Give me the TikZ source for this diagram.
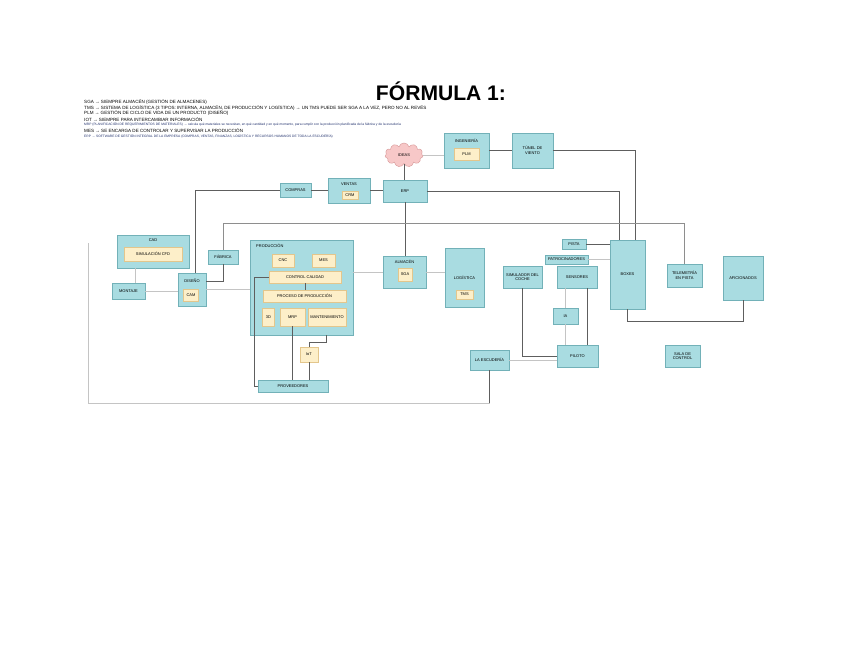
\documentclass[tikz,border=0pt]{standalone}
\usepackage{fontspec}
\setmainfont{Liberation Sans}
\usetikzlibrary{shapes.symbols,positioning}
\definecolor{BoxTeal}{HTML}{A9DCE1}
\definecolor{TealLine}{HTML}{72B1B8}
\definecolor{ModFill}{HTML}{FDEFC9}
\definecolor{ModLine}{HTML}{E3C68C}
\definecolor{CloudFill}{HTML}{F7C8C8}
\definecolor{CloudLine}{HTML}{D99C9C}
\definecolor{WireDark}{HTML}{5E5E5E}
\definecolor{WireLight}{HTML}{C4C4C4}
\definecolor{NoteBlue}{HTML}{1F2F6B}
\newcommand{\sysfont}{\fontsize{3.4}{4}\selectfont}
\newcommand{\notefont}{\fontsize{3.9}{4.4}\selectfont}
\tikzset{
  % Teal system box
  sys/.style={
    rectangle, draw=TealLine, fill=BoxTeal, line width=0.4pt,
    inner sep=0.5pt, align=center, font=\sysfont
  },
  % Inner module box
  mod/.style={
    rectangle, draw=ModLine, fill=ModFill, line width=0.3pt,
    inner sep=0.5pt, align=center, font=\sysfont
  },
  % Size in reference pixels
  wh/.style 2 args={minimum width=#1*0.3mm, minimum height=#2*0.3mm},
  % Box title
  ttl/.style={font=\sysfont, inner sep=0pt},
  % Connectors
  wire/.style={draw=WireDark, line width=0.7pt},
  lwire/.style={draw=WireLight, line width=0.6pt},
  % Note lines
  note/.style={anchor=west, inner sep=0pt, font=\notefont},
  smallnote/.style={note, font=\fontsize{2.8}{3.2}\selectfont, text=NoteBlue}
}
\begin{document}
\begin{tikzpicture}[x=0.3mm, y=-0.3mm]
  \useasboundingbox (0,0) rectangle (848,655);

  % Title and notes
  \node[font=\fontsize{18}{20}\selectfont\bfseries] (title) at (441,91) {FÓRMULA 1:};
  \node[note] (n1) at (84,102) {SGA → SIEMPRE ALMACÉN (GESTIÓN DE ALMACENES)};
  \node[note] (n2) at (84,107.7) {TMS → SISTEMA DE LOGÍSTICA (3 TIPOS: INTERNA, ALMACÉN, DE PRODUCCIÓN Y LOGÍSTICA) → UN TMS PUEDE SER SGA A LA VEZ, PERO NO AL REVÉS};
  \node[note] (n3) at (84,113.4) {PLM → GESTIÓN DE CICLO DE VIDA DE UN PRODUCTO (DISEÑO)};
  \node[note] (n4) at (84,119.1) {IOT → SIEMPRE PARA INTERCAMBIAR INFORMACIÓN};
  \node[smallnote] (n5) at (84,124.8)
    {MRP (PLANIFICACIÓN DE REQUERIMIENTOS DE MATERIALES) → calcula qué materiales se necesitan, en qué cantidad y en qué momento, para cumplir con la producción planificada de la fábrica y de la escudería};
  \node[note] (n6) at (84,130.5) {MES → SE ENCARGA DE CONTROLAR Y SUPERVISAR LA PRODUCCIÓN};
  \node[smallnote] (n7) at (84,136.2)
    {ERP → SOFTWARE DE GESTIÓN INTEGRAL DE LA EMPRESA (COMPRAS, VENTAS, FINANZAS, LOGÍSTICA Y RECURSOS HUMANOS DE TODA LA ESCUDERÍA)};

  % Top row
  \node[cloud, cloud puffs=11, aspect=1.6, draw=CloudLine, fill=CloudFill,
        inner sep=0pt, wh={38}{24}, font=\sysfont] (ideas) at (404,155) {IDEAS};
  \node[sys, wh={45}{35}] (ingen) at (466.5,150.5) {};
  \node[ttl] at (466.5,141) {INGENIERÍA};
  \node[mod, wh={25}{12}] (plm) at (466.5,154) {PLM};
  \node[sys, wh={41}{35}] (tunel) at (532.5,150.5) {TÚNEL DE\\VIENTO};

  \node[sys, wh={31}{14}] (compras) at (295.5,190) {COMPRAS};
  \node[sys, wh={42}{25}] (ventas) at (349,190.5) {};
  \node[ttl] at (349,184) {VENTAS};
  \node[mod, wh={16}{8}] (crm) at (350,195) {CRM};
  \node[sys, wh={44}{22}] (erp) at (405,191) {ERP};

  % Left side
  \node[sys, wh={72}{33}] (cad) at (153,251.5) {};
  \node[ttl] at (153,240.5) {CAD};
  \node[mod, wh={58}{14}] (cfd) at (153,254) {SIMULACIÓN CFD};
  \node[sys, wh={33}{16}] (montaje) at (128.5,291) {MONTAJE};
  \node[sys, wh={28}{33}] (diseno) at (192,289.5) {};
  \node[ttl] at (192,281) {DISEÑO};
  \node[mod, wh={15}{12}] (cam) at (191,295) {CAM};
  \node[sys, wh={30}{14}] (fabrica) at (223,257) {FÁBRICA};

  % Production
  \node[sys, wh={103}{95}] (prod) at (301.5,287.5) {};
  \node[ttl, anchor=west] at (256,246) {PRODUCCIÓN};
  \node[mod, wh={22}{13}] (cnc) at (283,260.5) {CNC};
  \node[mod, wh={23}{13}] (mes) at (323.5,260.5) {MES};
  \node[mod, wh={72}{12}] (calidad) at (305,277) {CONTROL CALIDAD};
  \node[mod, wh={83}{12}] (proceso) at (304.5,296) {PROCESO DE PRODUCCIÓN};
  \node[mod, wh={12}{18}] (sp) at (268.5,317) {3D};
  \node[mod, wh={25}{18}] (mrp) at (292.5,317) {MRP};
  \node[mod, wh={38}{18}] (mant) at (327,317) {MANTENIMIENTO};
  \node[mod, wh={18}{15}] (iot) at (309,354.5) {IoT};
  \node[sys, wh={70}{12}] (prov) at (293,386) {PROVEEDORES};

  % Logistics
  \node[sys, wh={43}{32}] (almacen) at (404.5,272) {};
  \node[ttl] at (404.5,262) {ALMACÉN};
  \node[mod, wh={14}{13}] (sga) at (405,274.5) {SGA};
  \node[sys, wh={39}{59}] (logist) at (464.5,277.5) {LOGÍSTICA};
  \node[mod, wh={17}{9}] (tms) at (464.5,294.5) {TMS};

  % Race side
  \node[sys, wh={24}{10}] (pista) at (574,244) {PISTA};
  \node[sys, wh={43}{9}] (patroc) at (566.5,259.5) {PATROCINADORES};
  \node[sys, wh={39}{22}] (simul) at (522.5,277) {SIMULADOR DEL\\COCHE};
  \node[sys, wh={40}{22}] (sensores) at (577,277) {SENSORES};
  \node[sys, wh={25}{16}] (ia) at (565.5,316) {IA};
  \node[sys, wh={41}{22}] (piloto) at (577.5,356) {PILOTO};
  \node[sys, wh={39}{20}] (escuderia) at (489.5,360) {LA ESCUDERÍA};
  \node[sys, wh={35}{69}] (boxes) at (627.5,274.5) {BOXES};
  \node[sys, wh={35}{23}] (telem) at (684.5,275.5) {TELEMETRÍA\\EN PISTA};
  \node[sys, wh={40}{44}] (afic) at (743,278) {AFICIONADOS};
  \node[sys, wh={35}{22}] (sala) at (682.5,356) {SALA DE\\CONTROL};

  \coordinate (cornerL) at (88,403);
  \coordinate (topL) at (88,243);

  % Connections
  \draw[wire] (ideas.south) -- (ideas.south |- erp.north);
  \draw[lwire] (ideas.east) -- (ideas.east -| ingen.west);
  \draw[wire] (ingen.east) -- (tunel.west);
  \draw[wire] (tunel.east) -| ([xshift=2.5mm]boxes.north);
  \draw[wire] (erp.east) -| ([xshift=-2.5mm]boxes.north);
  \draw[wire] (compras.east) -- (compras.east -| ventas.west);
  \draw[wire] (ventas.east) -- (ventas.east -| erp.west);
  \draw[wire] (compras.west) -| ([xshift=1mm]diseno.north);
  \draw[wire] (erp.south) -- (erp.south |- almacen.north);
  \draw[draw=WireDark!70, line width=0.6pt] (fabrica.north) -- ++(0,8mm) -| (telem.north);
  \draw[wire] (fabrica.south) |- ([yshift=2.4mm]diseno.east);
  \draw[lwire] (cad.south -| montaje.north) ++(2mm,0) -- ([xshift=2mm]montaje.north);
  \draw[lwire] (montaje.east) -- (montaje.east -| diseno.west);
  \draw[lwire] (diseno.east) -- (diseno.east -| prod.west);
  \draw[lwire] (almacen.west) -- (almacen.west -| prod.east);
  \draw[lwire] (almacen.east) -- (almacen.east -| logist.west);
  \draw[wire] (calidad.south) -- (calidad.south |- proceso.north);
  \draw[wire] (calidad.west) -- ++(-4.2mm,0) |- (prov.west);
  \draw[wire] (mrp.south) -- (mrp.south |- prov.north);
  \draw[wire] ([xshift=7.6mm]prod.south) -- ++(0,-2.1mm) -| (iot.north);
  \draw[wire] (iot.south) -- (iot.south |- prov.north);
  \draw[wire] (pista.east) -- (pista.east -| boxes.west);
  \draw[lwire] (patroc.east) -- (patroc.east -| boxes.west);
  \draw[wire] (simul.south) |- (piloto.west);
  \draw[lwire] (ia.north) -- (ia.north |- sensores.south);
  \draw[lwire] (ia.south) -- (ia.south |- piloto.north);
  \draw[wire] ([xshift=3mm]sensores.south) -- ([xshift=3mm]sensores.south |- piloto.north);
  \draw[lwire] (escuderia.east) -- (escuderia.east -| piloto.west);
  \draw[wire] (boxes.south) -- ++(0,-3.6mm) -| (afic.south);
  \draw[wire] (escuderia.south) -- (escuderia.south |- cornerL);
  \draw[lwire] (escuderia.south |- cornerL) -- (cornerL) -- (topL);
\end{tikzpicture}
\end{document}
